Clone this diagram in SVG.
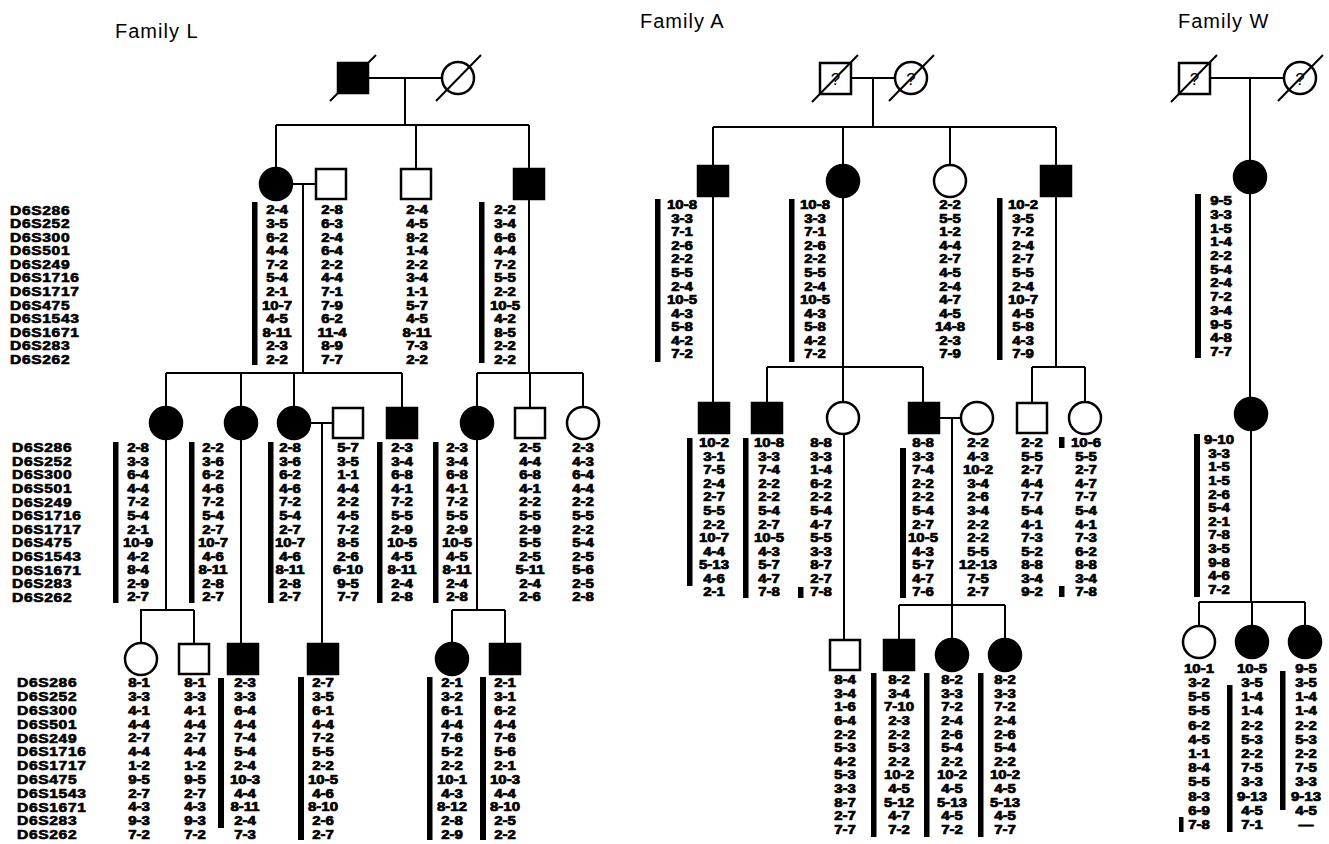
<svg xmlns="http://www.w3.org/2000/svg" width="1329" height="844" viewBox="0 0 1329 844">
<style>
text{font-family:"Liberation Sans",Arial,Helvetica,sans-serif;fill:#000}
.g{font-weight:bold;font-size:12px;text-anchor:middle;stroke:#000;stroke-width:0.7;stroke-linejoin:round}
.lab{font-weight:bold;font-size:12px;letter-spacing:0.5px;stroke:#000;stroke-width:0.6;stroke-linejoin:round}
.ttl{font-size:20px;letter-spacing:1px}
.q{font-size:17px;text-anchor:middle}
.ln{stroke:#000;stroke-width:2;fill:none}
.o{fill:#fff;stroke:#000;stroke-width:2.5}
.f{fill:#000;stroke:#000;stroke-width:2.5}
.bar{fill:#000}
</style>
<defs>
<g id="labels">
<text class="lab" y="0"><tspan x="0">D6S286</tspan><tspan x="0" dy="13.6">D6S252</tspan><tspan x="0" dy="13.6">D6S300</tspan><tspan x="0" dy="13.6">D6S501</tspan><tspan x="0" dy="13.6">D6S249</tspan><tspan x="0" dy="13.6">D6S1716</tspan><tspan x="0" dy="13.6">D6S1717</tspan><tspan x="0" dy="13.6">D6S475</tspan><tspan x="0" dy="13.6">D6S1543</tspan><tspan x="0" dy="13.6">D6S1671</tspan><tspan x="0" dy="13.6">D6S283</tspan><tspan x="0" dy="13.6">D6S262</tspan></text>
</g>
</defs>

<text class="ttl" x="115" y="38">Family L</text>
<text class="ttl" x="640" y="28">Family A</text>
<text class="ttl" x="1178" y="28">Family W</text>

<use href="#labels" transform="translate(10 214.5) scale(1.3 1)"/>
<use href="#labels" transform="translate(12 452.3) scale(1.3 1)"/>
<use href="#labels" transform="translate(17 687.3) scale(1.3 1.015)"/>

<!-- connectors -->
<g id="connectors" class="ln">
<path d="M368 78H442M405 78V125M276 125H529M276 125V168M416 125V169M529 125V169"/>
<path d="M292 184H316M303 184V373M166 373H402M166 373V407M241 373V407M294 373V407M402 373V408"/>
<path d="M529 199V373M477 373H583M477 373V407M530 373V408M583 373V407"/>
<path d="M166 439V610M140 610H194M141 610V643M194 610V644M241 439V644"/>
<path d="M310 423H333M322 423V644"/>
<path d="M477 439V610M452 610H505M452 610V643M505 610V644"/>
<path d="M851 78H895M873 78V127M713 127H1056M713 127V166M843 127V165M950 127V165M1056 127V166"/>
<path d="M713 196V403M843 197V367M767 367H923M767 367V403M843 367V402M923 367V403"/>
<path d="M1056 196V367M1032 367H1085M1032 367V403M1085 367V402"/>
<path d="M939 418H961M952 418V605M899 605H1005M899 605V640M952 605V639M1005 605V639"/>
<path d="M844 434V640"/>
<path d="M1210 78H1284M1250 78V161M1250 193V398M1251 430V602M1199 602H1305M1199 602V626M1252 602V626M1305 602V626"/>
</g>

<!-- Family L nodes -->
<g id="L-I-1"><rect class="f" x="338" y="63" width="30" height="30"/><line class="ln" x1="330" y1="101" x2="376" y2="55"/></g>
<g id="L-I-2"><circle class="o" cx="458" cy="78" r="16"/><line class="ln" x1="436" y1="101" x2="481" y2="55"/></g>

<g id="L-II-1"><circle class="f" cx="276" cy="184" r="16"/><rect class="bar" x="252" y="202" width="5.5" height="163"/>
<text class="g" y="214.5" transform="matrix(1.25 0 0 1 -69.25 0)"><tspan x="277">2-4</tspan><tspan x="277" dy="13.6">3-5</tspan><tspan x="277" dy="13.6">6-2</tspan><tspan x="277" dy="13.6">4-4</tspan><tspan x="277" dy="13.6">7-2</tspan><tspan x="277" dy="13.6">5-4</tspan><tspan x="277" dy="13.6">2-1</tspan><tspan x="277" dy="13.6">10-7</tspan><tspan x="277" dy="13.6">4-5</tspan><tspan x="277" dy="13.6">8-11</tspan><tspan x="277" dy="13.6">2-3</tspan><tspan x="277" dy="13.6">2-2</tspan></text></g>
<g id="L-II-2"><rect class="o" x="316" y="169" width="30" height="30"/>
<text class="g" y="214.5" transform="matrix(1.25 0 0 1 -83 0)"><tspan x="332">2-8</tspan><tspan x="332" dy="13.6">6-3</tspan><tspan x="332" dy="13.6">2-4</tspan><tspan x="332" dy="13.6">6-4</tspan><tspan x="332" dy="13.6">2-2</tspan><tspan x="332" dy="13.6">4-4</tspan><tspan x="332" dy="13.6">7-1</tspan><tspan x="332" dy="13.6">7-9</tspan><tspan x="332" dy="13.6">6-2</tspan><tspan x="332" dy="13.6">11-4</tspan><tspan x="332" dy="13.6">8-9</tspan><tspan x="332" dy="13.6">7-7</tspan></text></g>
<g id="L-II-3"><rect class="o" x="401" y="169" width="30" height="30"/>
<text class="g" y="214.5" transform="matrix(1.25 0 0 1 -104.25 0)"><tspan x="417">2-4</tspan><tspan x="417" dy="13.6">4-5</tspan><tspan x="417" dy="13.6">8-2</tspan><tspan x="417" dy="13.6">1-4</tspan><tspan x="417" dy="13.6">2-2</tspan><tspan x="417" dy="13.6">3-4</tspan><tspan x="417" dy="13.6">1-1</tspan><tspan x="417" dy="13.6">5-7</tspan><tspan x="417" dy="13.6">4-5</tspan><tspan x="417" dy="13.6">8-11</tspan><tspan x="417" dy="13.6">7-3</tspan><tspan x="417" dy="13.6">2-2</tspan></text></g>
<g id="L-II-4"><rect class="f" x="514" y="169" width="30" height="30"/><rect class="bar" x="479" y="202" width="5.5" height="161"/>
<text class="g" y="214.5" transform="matrix(1.25 0 0 1 -126.25 0)"><tspan x="505">2-2</tspan><tspan x="505" dy="13.6">3-4</tspan><tspan x="505" dy="13.6">6-6</tspan><tspan x="505" dy="13.6">4-4</tspan><tspan x="505" dy="13.6">7-2</tspan><tspan x="505" dy="13.6">5-5</tspan><tspan x="505" dy="13.6">2-2</tspan><tspan x="505" dy="13.6">10-5</tspan><tspan x="505" dy="13.6">4-2</tspan><tspan x="505" dy="13.6">8-5</tspan><tspan x="505" dy="13.6">2-2</tspan><tspan x="505" dy="13.6">2-2</tspan></text></g>

<g id="L-III-1"><circle class="f" cx="166" cy="423" r="16"/><rect class="bar" x="113" y="442" width="5.5" height="161"/>
<text class="g" y="452.3" transform="matrix(1.25 0 0 1 -34.5 0)"><tspan x="138">2-8</tspan><tspan x="138" dy="13.55">3-3</tspan><tspan x="138" dy="13.55">6-4</tspan><tspan x="138" dy="13.55">4-4</tspan><tspan x="138" dy="13.55">7-2</tspan><tspan x="138" dy="13.55">5-4</tspan><tspan x="138" dy="13.55">2-1</tspan><tspan x="138" dy="13.55">10-9</tspan><tspan x="138" dy="13.55">4-2</tspan><tspan x="138" dy="13.55">8-4</tspan><tspan x="138" dy="13.55">2-9</tspan><tspan x="138" dy="13.55">2-7</tspan></text></g>
<g id="L-III-2"><circle class="f" cx="241" cy="423" r="16"/><rect class="bar" x="189" y="442" width="5.5" height="161"/>
<text class="g" y="452.3" transform="matrix(1.25 0 0 1 -53.25 0)"><tspan x="213">2-2</tspan><tspan x="213" dy="13.55">3-6</tspan><tspan x="213" dy="13.55">6-2</tspan><tspan x="213" dy="13.55">4-6</tspan><tspan x="213" dy="13.55">7-2</tspan><tspan x="213" dy="13.55">5-4</tspan><tspan x="213" dy="13.55">2-7</tspan><tspan x="213" dy="13.55">10-7</tspan><tspan x="213" dy="13.55">4-6</tspan><tspan x="213" dy="13.55">8-11</tspan><tspan x="213" dy="13.55">2-8</tspan><tspan x="213" dy="13.55">2-7</tspan></text></g>
<g id="L-III-3"><circle class="f" cx="294" cy="423" r="16"/><rect class="bar" x="268" y="442" width="5.5" height="161"/>
<text class="g" y="452.3" transform="matrix(1.25 0 0 1 -72.5 0)"><tspan x="290">2-8</tspan><tspan x="290" dy="13.55">3-6</tspan><tspan x="290" dy="13.55">6-2</tspan><tspan x="290" dy="13.55">4-6</tspan><tspan x="290" dy="13.55">7-2</tspan><tspan x="290" dy="13.55">5-4</tspan><tspan x="290" dy="13.55">2-7</tspan><tspan x="290" dy="13.55">10-7</tspan><tspan x="290" dy="13.55">4-6</tspan><tspan x="290" dy="13.55">8-11</tspan><tspan x="290" dy="13.55">2-8</tspan><tspan x="290" dy="13.55">2-7</tspan></text></g>
<g id="L-III-4"><rect class="o" x="333" y="408" width="30" height="30"/>
<text class="g" y="452.3" transform="matrix(1.25 0 0 1 -87 0)"><tspan x="348">5-7</tspan><tspan x="348" dy="13.55">3-5</tspan><tspan x="348" dy="13.55">1-1</tspan><tspan x="348" dy="13.55">4-4</tspan><tspan x="348" dy="13.55">2-2</tspan><tspan x="348" dy="13.55">4-5</tspan><tspan x="348" dy="13.55">7-2</tspan><tspan x="348" dy="13.55">8-5</tspan><tspan x="348" dy="13.55">2-6</tspan><tspan x="348" dy="13.55">6-10</tspan><tspan x="348" dy="13.55">9-5</tspan><tspan x="348" dy="13.55">7-7</tspan></text></g>
<g id="L-III-5"><rect class="f" x="387" y="408" width="30" height="30"/><rect class="bar" x="377" y="442" width="5.5" height="161"/>
<text class="g" y="452.3" transform="matrix(1.25 0 0 1 -100.5 0)"><tspan x="402">2-3</tspan><tspan x="402" dy="13.55">3-4</tspan><tspan x="402" dy="13.55">6-8</tspan><tspan x="402" dy="13.55">4-1</tspan><tspan x="402" dy="13.55">7-2</tspan><tspan x="402" dy="13.55">5-5</tspan><tspan x="402" dy="13.55">2-9</tspan><tspan x="402" dy="13.55">10-5</tspan><tspan x="402" dy="13.55">4-5</tspan><tspan x="402" dy="13.55">8-11</tspan><tspan x="402" dy="13.55">2-4</tspan><tspan x="402" dy="13.55">2-8</tspan></text></g>
<g id="L-III-6"><circle class="f" cx="477" cy="423" r="16"/><rect class="bar" x="433" y="442" width="5.5" height="161"/>
<text class="g" y="452.3" transform="matrix(1.25 0 0 1 -114.25 0)"><tspan x="457">2-3</tspan><tspan x="457" dy="13.55">3-4</tspan><tspan x="457" dy="13.55">6-8</tspan><tspan x="457" dy="13.55">4-1</tspan><tspan x="457" dy="13.55">7-2</tspan><tspan x="457" dy="13.55">5-5</tspan><tspan x="457" dy="13.55">2-9</tspan><tspan x="457" dy="13.55">10-5</tspan><tspan x="457" dy="13.55">4-5</tspan><tspan x="457" dy="13.55">8-11</tspan><tspan x="457" dy="13.55">2-4</tspan><tspan x="457" dy="13.55">2-8</tspan></text></g>
<g id="L-III-7"><rect class="o" x="515" y="408" width="30" height="30"/>
<text class="g" y="452.3" transform="matrix(1.25 0 0 1 -132.5 0)"><tspan x="530">2-5</tspan><tspan x="530" dy="13.55">4-4</tspan><tspan x="530" dy="13.55">6-8</tspan><tspan x="530" dy="13.55">4-1</tspan><tspan x="530" dy="13.55">2-2</tspan><tspan x="530" dy="13.55">5-5</tspan><tspan x="530" dy="13.55">2-9</tspan><tspan x="530" dy="13.55">5-5</tspan><tspan x="530" dy="13.55">2-5</tspan><tspan x="530" dy="13.55">5-11</tspan><tspan x="530" dy="13.55">2-4</tspan><tspan x="530" dy="13.55">2-6</tspan></text></g>
<g id="L-III-8"><circle class="o" cx="583" cy="423" r="16"/>
<text class="g" y="452.3" transform="matrix(1.25 0 0 1 -145.75 0)"><tspan x="583">2-3</tspan><tspan x="583" dy="13.55">4-3</tspan><tspan x="583" dy="13.55">6-4</tspan><tspan x="583" dy="13.55">4-4</tspan><tspan x="583" dy="13.55">2-2</tspan><tspan x="583" dy="13.55">5-5</tspan><tspan x="583" dy="13.55">2-2</tspan><tspan x="583" dy="13.55">5-4</tspan><tspan x="583" dy="13.55">2-5</tspan><tspan x="583" dy="13.55">5-6</tspan><tspan x="583" dy="13.55">2-5</tspan><tspan x="583" dy="13.55">2-8</tspan></text></g>

<g id="L-IV-1"><circle class="o" cx="141" cy="659" r="16"/>
<text class="g" y="687.3" transform="matrix(1.25 0 0 1 -34.75 0)"><tspan x="139">8-1</tspan><tspan x="139" dy="13.8">3-3</tspan><tspan x="139" dy="13.8">4-1</tspan><tspan x="139" dy="13.8">4-4</tspan><tspan x="139" dy="13.8">2-7</tspan><tspan x="139" dy="13.8">4-4</tspan><tspan x="139" dy="13.8">1-2</tspan><tspan x="139" dy="13.8">9-5</tspan><tspan x="139" dy="13.8">2-7</tspan><tspan x="139" dy="13.8">4-3</tspan><tspan x="139" dy="13.8">9-3</tspan><tspan x="139" dy="13.8">7-2</tspan></text></g>
<g id="L-IV-2"><rect class="o" x="179" y="644" width="30" height="30"/>
<text class="g" y="687.3" transform="matrix(1.25 0 0 1 -48.75 0)"><tspan x="195">8-1</tspan><tspan x="195" dy="13.8">3-3</tspan><tspan x="195" dy="13.8">4-1</tspan><tspan x="195" dy="13.8">4-4</tspan><tspan x="195" dy="13.8">2-7</tspan><tspan x="195" dy="13.8">4-4</tspan><tspan x="195" dy="13.8">1-2</tspan><tspan x="195" dy="13.8">9-5</tspan><tspan x="195" dy="13.8">2-7</tspan><tspan x="195" dy="13.8">4-3</tspan><tspan x="195" dy="13.8">9-3</tspan><tspan x="195" dy="13.8">7-2</tspan></text></g>
<g id="L-IV-3"><rect class="f" x="228" y="644" width="30" height="30"/><rect class="bar" x="218" y="678" width="6" height="150"/>
<text class="g" y="687.3" transform="matrix(1.25 0 0 1 -61.25 0)"><tspan x="245">2-3</tspan><tspan x="245" dy="13.8">3-3</tspan><tspan x="245" dy="13.8">6-4</tspan><tspan x="245" dy="13.8">4-4</tspan><tspan x="245" dy="13.8">7-4</tspan><tspan x="245" dy="13.8">5-4</tspan><tspan x="245" dy="13.8">2-4</tspan><tspan x="245" dy="13.8">10-3</tspan><tspan x="245" dy="13.8">4-4</tspan><tspan x="245" dy="13.8">8-11</tspan><tspan x="245" dy="13.8">2-4</tspan><tspan x="245" dy="13.8">7-3</tspan></text></g>
<g id="L-IV-4"><rect class="f" x="308" y="644" width="30" height="30"/><rect class="bar" x="298" y="677" width="6" height="163"/>
<text class="g" y="687.3" transform="matrix(1.25 0 0 1 -80.75 0)"><tspan x="323">2-7</tspan><tspan x="323" dy="13.8">3-5</tspan><tspan x="323" dy="13.8">6-1</tspan><tspan x="323" dy="13.8">4-4</tspan><tspan x="323" dy="13.8">7-2</tspan><tspan x="323" dy="13.8">5-5</tspan><tspan x="323" dy="13.8">2-2</tspan><tspan x="323" dy="13.8">10-5</tspan><tspan x="323" dy="13.8">4-6</tspan><tspan x="323" dy="13.8">8-10</tspan><tspan x="323" dy="13.8">2-6</tspan><tspan x="323" dy="13.8">2-7</tspan></text></g>
<g id="L-IV-5"><circle class="f" cx="452" cy="659" r="16"/><rect class="bar" x="427" y="677" width="5.5" height="163"/>
<text class="g" y="687.3" transform="matrix(1.25 0 0 1 -113 0)"><tspan x="452">2-1</tspan><tspan x="452" dy="13.8">3-2</tspan><tspan x="452" dy="13.8">6-1</tspan><tspan x="452" dy="13.8">4-4</tspan><tspan x="452" dy="13.8">7-6</tspan><tspan x="452" dy="13.8">5-2</tspan><tspan x="452" dy="13.8">2-2</tspan><tspan x="452" dy="13.8">10-1</tspan><tspan x="452" dy="13.8">4-3</tspan><tspan x="452" dy="13.8">8-12</tspan><tspan x="452" dy="13.8">2-8</tspan><tspan x="452" dy="13.8">2-9</tspan></text></g>
<g id="L-IV-6"><rect class="f" x="490" y="644" width="30" height="30"/><rect class="bar" x="480" y="677" width="6" height="163"/>
<text class="g" y="687.3" transform="matrix(1.25 0 0 1 -126.25 0)"><tspan x="505">2-1</tspan><tspan x="505" dy="13.8">3-1</tspan><tspan x="505" dy="13.8">6-2</tspan><tspan x="505" dy="13.8">4-4</tspan><tspan x="505" dy="13.8">7-6</tspan><tspan x="505" dy="13.8">5-6</tspan><tspan x="505" dy="13.8">2-1</tspan><tspan x="505" dy="13.8">10-3</tspan><tspan x="505" dy="13.8">4-4</tspan><tspan x="505" dy="13.8">8-10</tspan><tspan x="505" dy="13.8">2-5</tspan><tspan x="505" dy="13.8">2-2</tspan></text></g>

<!-- Family A nodes -->
<g id="A-I-1"><rect class="o" x="820" y="63" width="31" height="31"/><text class="q" x="835.5" y="85">?</text><line class="ln" x1="812" y1="102" x2="858" y2="55"/></g>
<g id="A-I-2"><circle class="o" cx="911" cy="78" r="16"/><text class="q" x="911" y="85">?</text><line class="ln" x1="889" y1="101" x2="934" y2="55"/></g>

<g id="A-II-1"><rect class="f" x="698" y="166" width="30" height="30"/><rect class="bar" x="655" y="199" width="5.5" height="163"/>
<text class="g" y="209.3" transform="matrix(1.25 0 0 1 -170.5 0)"><tspan x="682">10-8</tspan><tspan x="682" dy="13.55">3-3</tspan><tspan x="682" dy="13.55">7-1</tspan><tspan x="682" dy="13.55">2-6</tspan><tspan x="682" dy="13.55">2-2</tspan><tspan x="682" dy="13.55">5-5</tspan><tspan x="682" dy="13.55">2-4</tspan><tspan x="682" dy="13.55">10-5</tspan><tspan x="682" dy="13.55">4-3</tspan><tspan x="682" dy="13.55">5-8</tspan><tspan x="682" dy="13.55">4-2</tspan><tspan x="682" dy="13.55">7-2</tspan></text></g>
<g id="A-II-2"><circle class="f" cx="843" cy="181" r="16"/><rect class="bar" x="789" y="199" width="5.5" height="163"/>
<text class="g" y="209.3" transform="matrix(1.25 0 0 1 -203.75 0)"><tspan x="815">10-8</tspan><tspan x="815" dy="13.55">3-3</tspan><tspan x="815" dy="13.55">7-1</tspan><tspan x="815" dy="13.55">2-6</tspan><tspan x="815" dy="13.55">2-2</tspan><tspan x="815" dy="13.55">5-5</tspan><tspan x="815" dy="13.55">2-4</tspan><tspan x="815" dy="13.55">10-5</tspan><tspan x="815" dy="13.55">4-3</tspan><tspan x="815" dy="13.55">5-8</tspan><tspan x="815" dy="13.55">4-2</tspan><tspan x="815" dy="13.55">7-2</tspan></text></g>
<g id="A-II-3"><circle class="o" cx="950" cy="181" r="16"/>
<text class="g" y="209.3" transform="matrix(1.25 0 0 1 -237.5 0)"><tspan x="950">2-2</tspan><tspan x="950" dy="13.55">5-5</tspan><tspan x="950" dy="13.55">1-2</tspan><tspan x="950" dy="13.55">4-4</tspan><tspan x="950" dy="13.55">2-7</tspan><tspan x="950" dy="13.55">4-5</tspan><tspan x="950" dy="13.55">2-4</tspan><tspan x="950" dy="13.55">4-7</tspan><tspan x="950" dy="13.55">4-5</tspan><tspan x="950" dy="13.55">14-8</tspan><tspan x="950" dy="13.55">2-3</tspan><tspan x="950" dy="13.55">7-9</tspan></text></g>
<g id="A-II-4"><rect class="f" x="1041" y="166" width="30" height="30"/><rect class="bar" x="997" y="198" width="5.5" height="162"/>
<text class="g" y="209.3" transform="matrix(1.25 0 0 1 -255.75 0)"><tspan x="1023">10-2</tspan><tspan x="1023" dy="13.55">3-5</tspan><tspan x="1023" dy="13.55">7-2</tspan><tspan x="1023" dy="13.55">2-4</tspan><tspan x="1023" dy="13.55">2-7</tspan><tspan x="1023" dy="13.55">5-5</tspan><tspan x="1023" dy="13.55">2-4</tspan><tspan x="1023" dy="13.55">10-7</tspan><tspan x="1023" dy="13.55">4-5</tspan><tspan x="1023" dy="13.55">5-8</tspan><tspan x="1023" dy="13.55">4-3</tspan><tspan x="1023" dy="13.55">7-9</tspan></text></g>

<g id="A-III-1"><rect class="f" x="699" y="403" width="30" height="30"/><rect class="bar" x="687" y="438" width="5.5" height="148"/>
<text class="g" y="447.3" transform="matrix(1.25 0 0 1 -178.5 0)"><tspan x="714">10-2</tspan><tspan x="714" dy="13.55">3-1</tspan><tspan x="714" dy="13.55">7-5</tspan><tspan x="714" dy="13.55">2-4</tspan><tspan x="714" dy="13.55">2-7</tspan><tspan x="714" dy="13.55">5-5</tspan><tspan x="714" dy="13.55">2-2</tspan><tspan x="714" dy="13.55">10-7</tspan><tspan x="714" dy="13.55">4-4</tspan><tspan x="714" dy="13.55">5-13</tspan><tspan x="714" dy="13.55">4-6</tspan><tspan x="714" dy="13.55">2-1</tspan></text></g>
<g id="A-III-2"><rect class="f" x="752" y="403" width="30" height="30"/><rect class="bar" x="743" y="438" width="5.5" height="160"/>
<text class="g" y="447.3" transform="matrix(1.25 0 0 1 -192.25 0)"><tspan x="769">10-8</tspan><tspan x="769" dy="13.55">3-3</tspan><tspan x="769" dy="13.55">7-4</tspan><tspan x="769" dy="13.55">2-2</tspan><tspan x="769" dy="13.55">2-2</tspan><tspan x="769" dy="13.55">5-4</tspan><tspan x="769" dy="13.55">2-7</tspan><tspan x="769" dy="13.55">10-5</tspan><tspan x="769" dy="13.55">4-3</tspan><tspan x="769" dy="13.55">5-7</tspan><tspan x="769" dy="13.55">4-7</tspan><tspan x="769" dy="13.55">7-8</tspan></text></g>
<g id="A-III-3"><circle class="o" cx="843" cy="418" r="16"/><rect class="bar" x="798" y="587" width="5.5" height="11"/>
<text class="g" y="447.3" transform="matrix(1.25 0 0 1 -205.25 0)"><tspan x="821">8-8</tspan><tspan x="821" dy="13.55">3-3</tspan><tspan x="821" dy="13.55">1-4</tspan><tspan x="821" dy="13.55">6-2</tspan><tspan x="821" dy="13.55">2-2</tspan><tspan x="821" dy="13.55">5-4</tspan><tspan x="821" dy="13.55">4-7</tspan><tspan x="821" dy="13.55">5-5</tspan><tspan x="821" dy="13.55">3-3</tspan><tspan x="821" dy="13.55">8-7</tspan><tspan x="821" dy="13.55">2-7</tspan><tspan x="821" dy="13.55">7-8</tspan></text></g>
<g id="A-III-4"><rect class="f" x="909" y="403" width="30" height="30"/><rect class="bar" x="900" y="448" width="6" height="150"/>
<text class="g" y="447.3" transform="matrix(1.25 0 0 1 -230.75 0)"><tspan x="923">8-8</tspan><tspan x="923" dy="13.55">3-3</tspan><tspan x="923" dy="13.55">7-4</tspan><tspan x="923" dy="13.55">2-2</tspan><tspan x="923" dy="13.55">2-2</tspan><tspan x="923" dy="13.55">5-4</tspan><tspan x="923" dy="13.55">2-7</tspan><tspan x="923" dy="13.55">10-5</tspan><tspan x="923" dy="13.55">4-3</tspan><tspan x="923" dy="13.55">5-7</tspan><tspan x="923" dy="13.55">4-7</tspan><tspan x="923" dy="13.55">7-6</tspan></text></g>
<g id="A-III-5"><circle class="o" cx="977" cy="418" r="16"/>
<text class="g" y="447.3" transform="matrix(1.25 0 0 1 -244.5 0)"><tspan x="978">2-2</tspan><tspan x="978" dy="13.55">4-3</tspan><tspan x="978" dy="13.55">10-2</tspan><tspan x="978" dy="13.55">3-4</tspan><tspan x="978" dy="13.55">2-6</tspan><tspan x="978" dy="13.55">3-4</tspan><tspan x="978" dy="13.55">2-2</tspan><tspan x="978" dy="13.55">2-2</tspan><tspan x="978" dy="13.55">5-5</tspan><tspan x="978" dy="13.55">12-13</tspan><tspan x="978" dy="13.55">7-5</tspan><tspan x="978" dy="13.55">2-7</tspan></text></g>
<g id="A-III-6"><rect class="o" x="1017" y="403" width="30" height="30"/>
<text class="g" y="447.3" transform="matrix(1.25 0 0 1 -258 0)"><tspan x="1032">2-2</tspan><tspan x="1032" dy="13.55">5-5</tspan><tspan x="1032" dy="13.55">2-7</tspan><tspan x="1032" dy="13.55">4-4</tspan><tspan x="1032" dy="13.55">7-7</tspan><tspan x="1032" dy="13.55">5-4</tspan><tspan x="1032" dy="13.55">4-1</tspan><tspan x="1032" dy="13.55">7-3</tspan><tspan x="1032" dy="13.55">5-2</tspan><tspan x="1032" dy="13.55">8-8</tspan><tspan x="1032" dy="13.55">3-4</tspan><tspan x="1032" dy="13.55">9-2</tspan></text></g>
<g id="A-III-7"><circle class="o" cx="1085" cy="418" r="16"/><rect class="bar" x="1059" y="437" width="5.5" height="11"/><rect class="bar" x="1059" y="586" width="5.5" height="11"/>
<text class="g" y="447.3" transform="matrix(1.25 0 0 1 -271.5 0)"><tspan x="1086">10-6</tspan><tspan x="1086" dy="13.55">5-5</tspan><tspan x="1086" dy="13.55">2-7</tspan><tspan x="1086" dy="13.55">4-7</tspan><tspan x="1086" dy="13.55">7-7</tspan><tspan x="1086" dy="13.55">5-4</tspan><tspan x="1086" dy="13.55">4-1</tspan><tspan x="1086" dy="13.55">7-3</tspan><tspan x="1086" dy="13.55">6-2</tspan><tspan x="1086" dy="13.55">8-8</tspan><tspan x="1086" dy="13.55">3-4</tspan><tspan x="1086" dy="13.55">7-8</tspan></text></g>

<g id="A-IV-1"><rect class="o" x="830" y="640" width="30" height="30"/>
<text class="g" y="684.3" transform="matrix(1.25 0 0 1 -211.25 0)"><tspan x="845">8-4</tspan><tspan x="845" dy="13.6">3-4</tspan><tspan x="845" dy="13.6">1-6</tspan><tspan x="845" dy="13.6">6-4</tspan><tspan x="845" dy="13.6">2-2</tspan><tspan x="845" dy="13.6">5-3</tspan><tspan x="845" dy="13.6">4-2</tspan><tspan x="845" dy="13.6">5-3</tspan><tspan x="845" dy="13.6">3-3</tspan><tspan x="845" dy="13.6">8-7</tspan><tspan x="845" dy="13.6">2-7</tspan><tspan x="845" dy="13.6">7-7</tspan></text></g>
<g id="A-IV-2"><rect class="f" x="884" y="640" width="30" height="30"/><rect class="bar" x="871" y="673" width="5.5" height="164"/>
<text class="g" y="684.3" transform="matrix(1.25 0 0 1 -224.75 0)"><tspan x="899">8-2</tspan><tspan x="899" dy="13.6">3-4</tspan><tspan x="899" dy="13.6">7-10</tspan><tspan x="899" dy="13.6">2-3</tspan><tspan x="899" dy="13.6">2-2</tspan><tspan x="899" dy="13.6">5-3</tspan><tspan x="899" dy="13.6">2-2</tspan><tspan x="899" dy="13.6">10-2</tspan><tspan x="899" dy="13.6">4-5</tspan><tspan x="899" dy="13.6">5-12</tspan><tspan x="899" dy="13.6">4-7</tspan><tspan x="899" dy="13.6">7-2</tspan></text></g>
<g id="A-IV-3"><circle class="f" cx="952" cy="655" r="16"/><rect class="bar" x="924" y="673" width="5.5" height="164"/>
<text class="g" y="684.3" transform="matrix(1.25 0 0 1 -238 0)"><tspan x="952">8-2</tspan><tspan x="952" dy="13.6">3-3</tspan><tspan x="952" dy="13.6">7-2</tspan><tspan x="952" dy="13.6">2-4</tspan><tspan x="952" dy="13.6">2-6</tspan><tspan x="952" dy="13.6">5-4</tspan><tspan x="952" dy="13.6">2-2</tspan><tspan x="952" dy="13.6">10-2</tspan><tspan x="952" dy="13.6">4-5</tspan><tspan x="952" dy="13.6">5-13</tspan><tspan x="952" dy="13.6">4-5</tspan><tspan x="952" dy="13.6">7-2</tspan></text></g>
<g id="A-IV-4"><circle class="f" cx="1005" cy="655" r="16"/><rect class="bar" x="978" y="673" width="5.5" height="164"/>
<text class="g" y="684.3" transform="matrix(1.25 0 0 1 -251.25 0)"><tspan x="1005">8-2</tspan><tspan x="1005" dy="13.6">3-3</tspan><tspan x="1005" dy="13.6">7-2</tspan><tspan x="1005" dy="13.6">2-4</tspan><tspan x="1005" dy="13.6">2-6</tspan><tspan x="1005" dy="13.6">5-4</tspan><tspan x="1005" dy="13.6">2-2</tspan><tspan x="1005" dy="13.6">10-2</tspan><tspan x="1005" dy="13.6">4-5</tspan><tspan x="1005" dy="13.6">5-13</tspan><tspan x="1005" dy="13.6">4-5</tspan><tspan x="1005" dy="13.6">7-7</tspan></text></g>

<!-- Family W nodes -->
<g id="W-I-1"><rect class="o" x="1179" y="63" width="31" height="31"/><text class="q" x="1194.5" y="85">?</text><line class="ln" x1="1171" y1="102" x2="1217" y2="55"/></g>
<g id="W-I-2"><circle class="o" cx="1300" cy="78" r="16"/><text class="q" x="1300" y="85">?</text><line class="ln" x1="1278" y1="101" x2="1323" y2="55"/></g>

<g id="W-II-1"><circle class="f" cx="1250" cy="177" r="16"/><rect class="bar" x="1195" y="194" width="6" height="164"/>
<text class="g" y="205.3" transform="matrix(1.25 0 0 1 -305.25 0)"><tspan x="1221">9-5</tspan><tspan x="1221" dy="13.7">3-3</tspan><tspan x="1221" dy="13.7">1-5</tspan><tspan x="1221" dy="13.7">1-4</tspan><tspan x="1221" dy="13.7">2-2</tspan><tspan x="1221" dy="13.7">5-4</tspan><tspan x="1221" dy="13.7">2-4</tspan><tspan x="1221" dy="13.7">7-2</tspan><tspan x="1221" dy="13.7">3-4</tspan><tspan x="1221" dy="13.7">9-5</tspan><tspan x="1221" dy="13.7">4-8</tspan><tspan x="1221" dy="13.7">7-7</tspan></text></g>
<g id="W-III-1"><circle class="f" cx="1251" cy="414" r="16"/><rect class="bar" x="1194" y="434" width="6" height="163"/>
<text class="g" y="444.3" transform="matrix(1.25 0 0 1 -304.75 0)"><tspan x="1219">9-10</tspan><tspan x="1219" dy="13.6">3-3</tspan><tspan x="1219" dy="13.6">1-5</tspan><tspan x="1219" dy="13.6">1-5</tspan><tspan x="1219" dy="13.6">2-6</tspan><tspan x="1219" dy="13.6">5-4</tspan><tspan x="1219" dy="13.6">2-1</tspan><tspan x="1219" dy="13.6">7-8</tspan><tspan x="1219" dy="13.6">3-5</tspan><tspan x="1219" dy="13.6">9-8</tspan><tspan x="1219" dy="13.6">4-6</tspan><tspan x="1219" dy="13.6">7-2</tspan></text></g>

<g id="W-IV-1"><circle class="o" cx="1199" cy="642" r="16"/><rect class="bar" x="1179" y="817" width="4.5" height="15"/>
<text class="g" y="672.8" transform="matrix(1.25 0 0 1 -299.75 0)"><tspan x="1199">10-1</tspan><tspan x="1199" dy="14.2">3-2</tspan><tspan x="1199" dy="14.2">5-5</tspan><tspan x="1199" dy="14.2">5-5</tspan><tspan x="1199" dy="14.2">6-2</tspan><tspan x="1199" dy="14.2">4-5</tspan><tspan x="1199" dy="14.2">1-1</tspan><tspan x="1199" dy="14.2">8-4</tspan><tspan x="1199" dy="14.2">5-5</tspan><tspan x="1199" dy="14.2">8-3</tspan><tspan x="1199" dy="14.2">6-9</tspan><tspan x="1199" dy="14.2">7-8</tspan></text></g>
<g id="W-IV-2"><circle class="f" cx="1252" cy="642" r="16"/><rect class="bar" x="1227" y="685" width="5.5" height="147"/>
<text class="g" y="672.8" transform="matrix(1.25 0 0 1 -313 0)"><tspan x="1252">10-5</tspan><tspan x="1252" dy="14.2">3-5</tspan><tspan x="1252" dy="14.2">1-4</tspan><tspan x="1252" dy="14.2">1-4</tspan><tspan x="1252" dy="14.2">2-2</tspan><tspan x="1252" dy="14.2">5-3</tspan><tspan x="1252" dy="14.2">2-2</tspan><tspan x="1252" dy="14.2">7-5</tspan><tspan x="1252" dy="14.2">3-3</tspan><tspan x="1252" dy="14.2">9-13</tspan><tspan x="1252" dy="14.2">4-5</tspan><tspan x="1252" dy="14.2">7-1</tspan></text></g>
<g id="W-IV-3"><circle class="f" cx="1305" cy="642" r="16"/><rect class="bar" x="1280" y="671" width="5.5" height="139"/>
<text class="g" y="672.8" transform="matrix(1.25 0 0 1 -326.5 0)"><tspan x="1306">9-5</tspan><tspan x="1306" dy="14.2">3-5</tspan><tspan x="1306" dy="14.2">1-4</tspan><tspan x="1306" dy="14.2">1-4</tspan><tspan x="1306" dy="14.2">2-2</tspan><tspan x="1306" dy="14.2">5-3</tspan><tspan x="1306" dy="14.2">2-2</tspan><tspan x="1306" dy="14.2">7-5</tspan><tspan x="1306" dy="14.2">3-3</tspan><tspan x="1306" dy="14.2">9-13</tspan><tspan x="1306" dy="14.2">4-5</tspan><tspan x="1306" dy="14.2">—</tspan></text></g>
</svg>
